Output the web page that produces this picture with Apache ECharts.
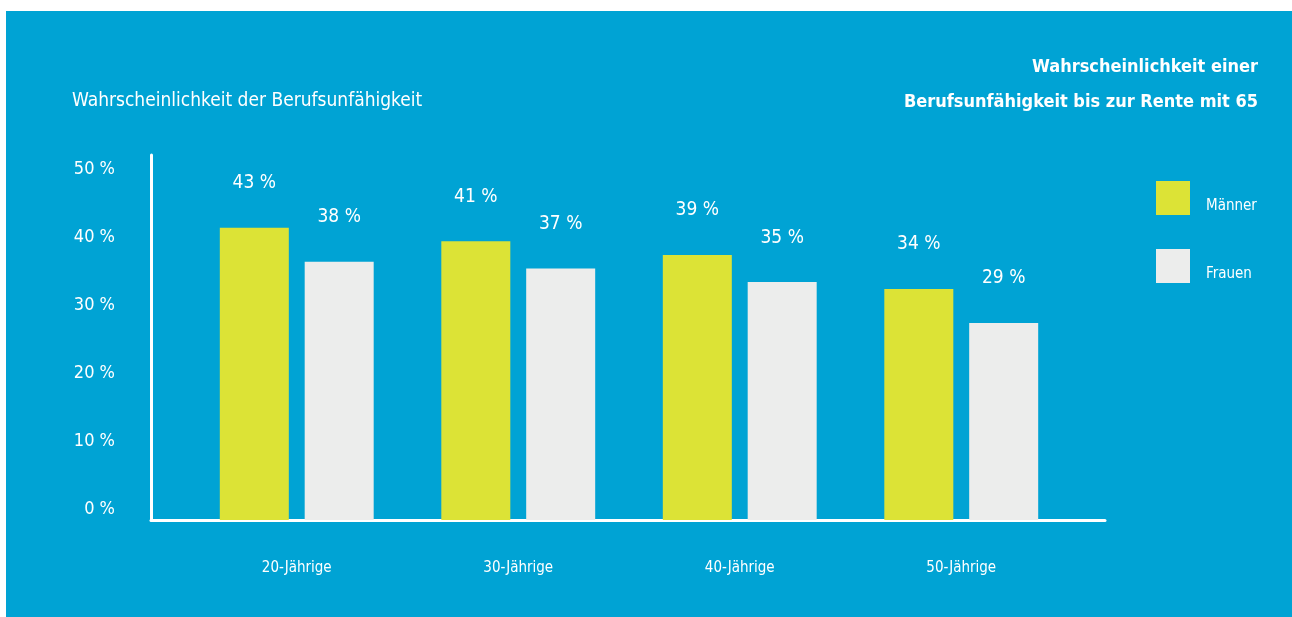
<!DOCTYPE html>
<html><head><meta charset="utf-8">
<script src="https://cdn.jsdelivr.net/npm/echarts@6/dist/echarts.min.js"></script>
<style>
html,body{margin:0;padding:0;background:#fff;width:1292px;height:617px;overflow:hidden}
#c{position:absolute;left:6px;top:11px;width:1286px;height:606px;background:#00A3D4}
</style></head><body><div id="c"></div>
<script>
const categories = ['20-Jährige','30-Jährige','40-Jährige','50-Jährige'];
const maenner = [43, 41, 39, 34];
const frauen = [38, 37, 35, 29];
const seriesNames = ['Männer','Frauen'];
const yTicks = [0,10,20,30,40,50];
const leftTitle = 'Wahrscheinlichkeit der Berufsunfähigkeit';
const rightTitleLines = ['Wahrscheinlichkeit einer','Berufsunfähigkeit bis zur Rente mit 65'];

const FONT = "'DejaVu Sans Condensed','Liberation Sans Narrow',sans-serif";
const YMAX = 53.7;
const chart = echarts.init(document.getElementById('c'));
chart.setOption({
  animation:false,
  backgroundColor:'#00A3D4',
  title:[
    {text:leftTitle,left:61,top:76,padding:5,textStyle:{color:'#fff',fontSize:19,fontWeight:'normal',fontFamily:FONT}},
    {text:rightTitleLines[0],right:29,top:40,padding:5,textStyle:{color:'#fff',fontSize:18,fontWeight:'bold',fontFamily:FONT,lineHeight:22}},
    {text:rightTitleLines[1],right:29,top:75,padding:5,textStyle:{color:'#fff',fontSize:18,fontWeight:'bold',fontFamily:FONT,lineHeight:22}}
  ],
  legend:{orient:'vertical',left:1150,top:170,padding:0,itemWidth:34,itemHeight:34,itemGap:34,icon:'rect',
    data:seriesNames,
    formatter:'{a|{name}}',
    textStyle:{color:'#fff',fontSize:15,fontFamily:FONT,padding:[0,0,0,11],
      rich:{a:{color:'#fff',fontSize:15,fontFamily:FONT,padding:[16,0,0,0]}}}},
  grid:[
    {left:145,right:187,top:144,bottom:97},
    {left:180,right:220,top:144,bottom:97}
  ],
  xAxis:[
    {gridIndex:0,type:'value',min:0,max:1,axisLine:{show:true,lineStyle:{color:'#fff',width:3}},axisTick:{show:false},axisLabel:{show:false},splitLine:{show:false}},
    {gridIndex:1,type:'category',data:categories,axisLine:{show:false},axisTick:{show:false},
      axisLabel:{color:'#fff',fontSize:15,fontFamily:FONT,margin:41}}
  ],
  yAxis:[
    {gridIndex:0,type:'value',min:0,max:YMAX,interval:10,
      axisLine:{show:true,lineStyle:{color:'#fff',width:3}},axisTick:{show:false},splitLine:{show:false},
      axisLabel:{color:'#fff',fontSize:18,fontFamily:FONT,margin:36,verticalAlign:'bottom',padding:[0,0,2,0],
        formatter:v=>yTicks.includes(v)?v+' %':''}},
    {gridIndex:1,type:'value',min:0,max:YMAX,show:false}
  ],
  series:[
    {name:seriesNames[0],type:'bar',xAxisIndex:1,yAxisIndex:1,data:maenner,barWidth:69,barGap:'23%',
      itemStyle:{color:'#DCE336'},
      label:{show:true,position:'top',distance:35,color:'#fff',fontSize:19,fontFamily:FONT,formatter:p=>p.value+' %'}},
    {name:seriesNames[1],type:'bar',xAxisIndex:1,yAxisIndex:1,data:frauen,barWidth:69,barGap:'23%',
      itemStyle:{color:'#ECEDEC'},
      label:{show:true,position:'top',distance:35,color:'#fff',fontSize:19,fontFamily:FONT,formatter:p=>p.value+' %'}}
  ]
});
</script></body></html>
